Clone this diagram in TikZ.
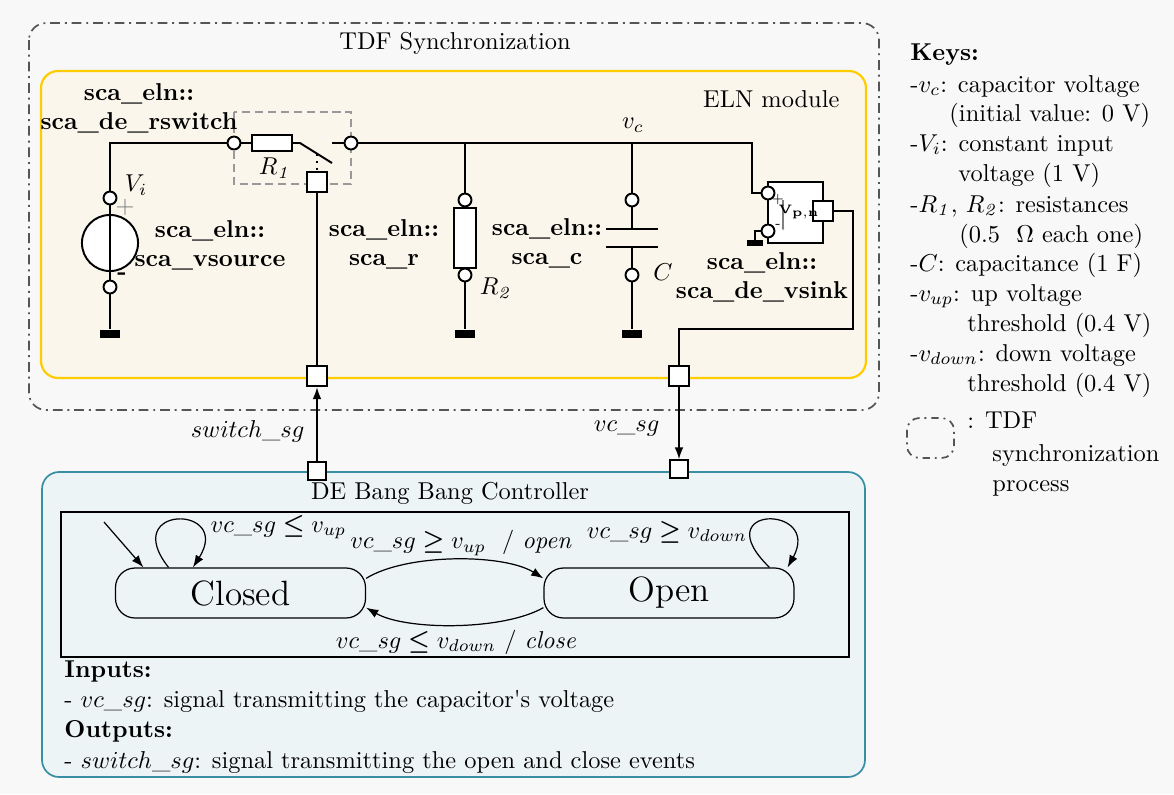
\documentclass[tikz,border=0pt]{standalone}
\usepackage{amsmath}
\usepackage{amssymb}
\usepackage{tikz}
\usetikzlibrary{arrows.meta}

\definecolor{bgcol}{RGB}{248,248,248}
\definecolor{elnfill}{RGB}{250,246,236}
\definecolor{elnline}{RGB}{255,204,0}
\definecolor{defill}{RGB}{237,244,246}
\definecolor{deline}{RGB}{56,143,163}
\definecolor{tdfline}{RGB}{85,85,85}

\begin{document}
\begin{tikzpicture}[x=0.41pt, y=-0.41pt, >={Latex[length=5pt,width=3.6pt]},
  wire/.style={line width=0.8pt},
  term/.style={circle, draw, fill=white, line width=0.8pt, inner sep=0pt, minimum size=5.3pt},
  vsrc/.style={circle, draw, fill=white, line width=0.8pt, inner sep=0pt, minimum size=23pt},
  res/.style={rectangle, draw, fill=white, line width=0.8pt, inner sep=0pt},
  plate/.style={rectangle, fill=black, inner sep=0pt, minimum width=21.7pt, minimum height=0.8pt},
  gnd/.style={rectangle, fill=black, inner sep=0pt, minimum width=8.6pt, minimum height=3.3pt},
  port/.style={rectangle, draw, fill=white, line width=0.8pt, inner sep=0pt, minimum size=8.2pt},
  sport/.style={port, minimum size=7pt},
  lbl/.style={font=\bfseries, align=center},
  txt/.style={anchor=base west, inner sep=0pt},
  stbox/.style={rectangle, draw, rounded corners=8pt, line width=0.5pt, minimum width=102.5pt, minimum height=20.5pt, font=\Large}]
  \useasboundingbox (0,0) rectangle (1174,794);
  \fill[bgcol] (0,0) rectangle (1174,794);

  % TDF synchronization and ELN module
  \draw[tdfline, line width=0.7pt, dash pattern=on 4pt off 2pt on 0.8pt off 2pt, rounded corners=7pt] (29,23) rectangle (879,410);
  \node (tdf) at (455,43) {TDF Synchronization};
  \draw[elnline, fill=elnfill, line width=0.9pt, rounded corners=7pt] (41,71) rectangle (866,378);
  \node [anchor=east] (eln) at (848,99) {ELN module};
  \draw[gray!80, line width=0.8pt, dash pattern=on 3.3pt off 2pt] (234,112) rectangle (351,184);

  % source
  \node [term] (vip) at (110,198) {};
  \node [vsrc] (vs) at (110,243) {};
  \node [term] (vim) at (110,287) {};
  \node [gnd] (g1) at (110,334) {};
  \node [inner sep=0pt] (vil) at (136,185) {$V_i$};
  \node [gray, inner sep=0pt] (vpl) at (125,207) {$+$};
  \node (vml) at (122,276) {\textbf{-}};
  \node [lbl] (vsl) at (210,245) {sca\_eln::\\sca\_vsource};

  % switch
  \node [term] (sw1) at (234,143) {};
  \node [res, minimum width=16.4pt, minimum height=6.3pt] (r1) at (272,143) {};
  \node (r1l) at (275,168) {$R_{\mathit{1}}$};
  \coordinate (bla) at (300,143);
  \coordinate (blb) at (332,163);
  \coordinate (blm) at (317,154);
  \coordinate (ctc) at (332,143);
  \node [term] (sw2) at (351,143) {};
  \node [port] (swp) at (317,182) {};
  \node [lbl] (swl) at (139,108) {sca\_eln::\\sca\_de\_rswitch};

  % R2
  \node [term] (r2t) at (465,200) {};
  \node [res, minimum width=9.4pt, minimum height=24.6pt] (r2) at (465,238) {};
  \node [term] (r2b) at (465,275) {};
  \node [gnd] (g2) at (465,334) {};
  \node (r2l) at (496,288) {$R_{\mathit{2}}$};
  \node [lbl] (rl) at (384,244) {sca\_eln::\\sca\_r};

  % C
  \node [term] (ct) at (632,200) {};
  \node [plate] (cpa) at (632,229) {};
  \node [plate] (cpb) at (632,247) {};
  \node [term] (cb) at (632,275) {};
  \node [gnd] (g3) at (632,334) {};
  \node (cl) at (663,272) {$C$};
  \node [lbl] (cll) at (547,243) {sca\_eln::\\sca\_c};
  \node (vcl) at (633,125) {$v_c$};

  % vsink
  \node [draw, fill=white, line width=0.8pt, minimum width=22.5pt, minimum height=25pt] (vsk) at (795.5,212.5) {};
  \node [term] (vsp) at (768,193) {};
  \node [term] (vsm) at (768,231) {};
  \node [port] (vport) at (823,211) {};
  \node [gnd, minimum width=6.2pt, minimum height=2.2pt] (g4) at (755,243) {};
  \coordinate (ma) at (783,200);
  \coordinate (mb) at (783,231);
  \draw[gray, line width=0.5pt, -{Latex[length=1.5pt,width=1.2pt]}] (ma) -- (mb);
  \node [font=\tiny, inner sep=0pt] (vpp) at (778,199) {+};
  \node [font=\tiny, inner sep=0pt] (vpm) at (778,226) {-};
  \node [font=\tiny\bfseries, inner sep=0pt] (vpn) at (799,212) {V$_{\mathbf{p,n}}$};
  \node [lbl] (vkl) at (762,277) {sca\_eln::\\sca\_de\_vsink};

  % DE controller
  \draw[deline, fill=defill, line width=0.7pt, rounded corners=7pt] (42,472) rectangle (865,777);
  \node (de) at (450,493) {DE Bang Bang Controller};
  \draw[line width=0.6pt] (61,512) rectangle (849,657);

  % ports
  \node [port] (pA) at (317,376) {};
  \node [port] (pB) at (679,376) {};
  \node [sport] (qA) at (317,471) {};
  \node [sport] (qB) at (679,469) {};
  \node [anchor=east] (swsl) at (313,431) {$switch\_sg$};
  \node [anchor=east] (vcsl) at (668,429) {$vc\_sg$};

  % wires
  \coordinate (ntop) at (752,143);
  \coordinate (j1) at (465,143);
  \coordinate (j2) at (632,143);
  \coordinate (w1) at (853,211);
  \coordinate (w2) at (853,329);
  \draw[wire] (vip) |- (sw1);
  \draw[wire] (vip) -- (vim);
  \draw[wire] (vim) -- (g1);
  \draw[wire] (sw1) -- (r1);
  \draw[wire] (r1) -- (bla) -- (blb);
  \draw[wire] (ctc) -- (sw2);
  \draw[line width=0.8pt, dotted] (blm) -- (swp);
  \draw[wire] (swp) -- (pA);
  \draw[wire] (sw2) -- (ntop) |- (vsp);
  \draw[wire] (j1) -- (r2t);
  \draw[wire] (r2t) -- (r2);
  \draw[wire] (r2) -- (r2b) -- (g2);
  \draw[wire] (j2) -- (ct) -- (cpa);
  \draw[wire] (cpb) -- (cb) -- (g3);
  \draw[wire] (vsm) -| (g4);
  \draw[wire] (vport) -- (w1) -- (w2) -| (pB);
  \draw[wire, ->] (qA) -- (pA);
  \draw[wire, ->] (pB) -- (qB);

  % state machine
  \node [stbox] (closed) at (240.5,593) {Closed};
  \node [stbox] (open) at (669,593) {Open};
  \coordinate (init) at (104,522);
  \draw[line width=0.5pt, ->] (init) -- ([xshift=11.7pt]closed.north west);
  \draw[line width=0.5pt, ->] ([xshift=22pt]closed.north west) .. controls +(-50,-63) and +(40,-63) .. ([xshift=32pt]closed.north west);
  \draw[line width=0.5pt, ->] ([xshift=-10.3pt]open.north east) .. controls +(-65,-63) and +(35,-63) .. ([xshift=-2.9pt]open.north east);
  \draw[line width=0.5pt, ->] ([yshift=6pt]closed.east) .. controls +(40,-25) and +(-40,-25) .. ([yshift=6pt]open.west);
  \draw[line width=0.5pt, ->] ([yshift=-6pt]open.west) .. controls +(-40,23) and +(40,23) .. ([yshift=-6pt]closed.east);
  \node [anchor=west] (t1) at (202,527) {$vc\_sg \boldsymbol{\leq} v_{up}$};
  \node (t2) at (461,543) {$vc\_sg \boldsymbol{\geq} v_{up}$ \ $/$ \textit{open}};
  \node (t3) at (667,532) {$vc\_sg \boldsymbol{\geq} v_{down}$};
  \node (t4) at (456,642) {$vc\_sg \boldsymbol{\leq} v_{down}$ $/$ \textit{close}};

  \node [txt] (inp) at (64,677) {\textbf{Inputs:}};
  \node [txt] (inl) at (64,707) {- $vc\_sg$: signal transmitting the capacitor\textquotesingle s voltage};
  \node [txt] (outp) at (64,737) {\textbf{Outputs:}};
  \node [txt] (outl) at (64,768) {- $switch\_sg$: signal transmitting the open and close events};

  % keys
  \node [txt] (k0) at (910,60) {\textbf{Keys:}};
  \node [txt] (k1) at (910,92) {-$v_c$: capacitor voltage};
  \node [txt] (k2) at (949,121) {(initial value: 0 V)};
  \node [txt] (k3) at (910,151) {-$V_i$: constant input};
  \node [txt] (k4) at (958,181) {voltage (1 V)};
  \node [txt] (k5) at (910,212) {-$R_{\mathit{1}}$, $R_{\mathit{2}}$: resistances};
  \node [txt] (k6) at (959,242) {(0.5 \ $\Omega$ each one)};
  \node [txt] (k7) at (910,271) {-$C$: capacitance (1 F)};
  \node [txt] (k8) at (910,301) {-$v_{up}$: up voltage};
  \node [txt] (k9) at (967,331) {threshold (0.4 V)};
  \node [txt] (k10) at (910,361) {-$v_{down}$: down voltage};
  \node [txt] (k11) at (967,391) {threshold (0.4 V)};
  \draw[tdfline, line width=0.7pt, dash pattern=on 3pt off 2pt on 0.8pt off 2pt, rounded corners=5pt] (907,418) rectangle (954,458);
  \node [txt] (k12) at (967,428) {: TDF};
  \node [txt] (k13) at (992,461) {synchronization};
  \node [txt] (k14) at (992,491) {process};
\end{tikzpicture}
\end{document}
